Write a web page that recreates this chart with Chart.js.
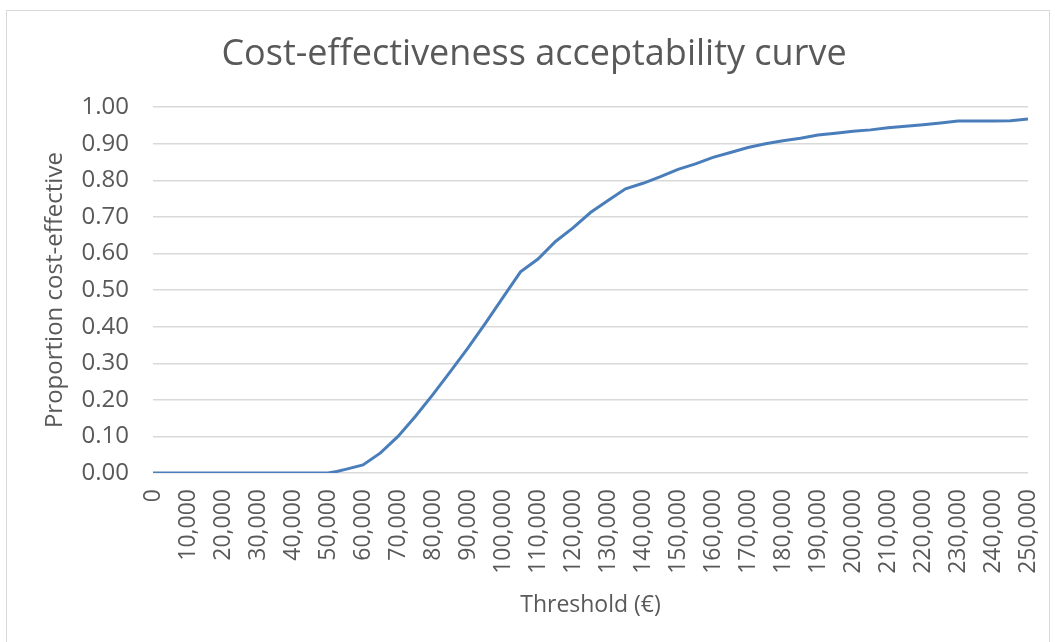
<!DOCTYPE html>
<html>
<head>
<meta charset="utf-8">
<script src="https://cdn.jsdelivr.net/npm/chart.js@4"></script>
<style>
  html, body { margin: 0; padding: 0; background: #fff; }
  #wrap { position: relative; width: 1057px; height: 642px; }
  #frame { position: absolute; left: 6px; top: 10px; width: 1044px; height: 640px; border: 1px solid #d9d9d9; box-sizing: border-box; }
  canvas { position: absolute; left: 0; top: 0; }
</style>
</head>
<body>
<div id="wrap">
  <div id="frame"></div>
  <canvas id="ceacChart" width="1057" height="642"></canvas>
</div>
<script>
// Threshold values (€) and proportion cost-effective
const thresholds = [0, 5000, 10000, 15000, 20000, 25000, 30000, 35000, 40000, 45000,
    50000, 52500, 55000, 60000, 65000, 70000, 75000, 80000, 85000, 90000, 95000,
    100000, 105000, 110000, 115000, 120000, 125000, 130000, 135000, 140000, 145000,
    150000, 155000, 160000, 165000, 170000, 175000, 180000, 185000, 190000, 195000,
    200000, 205000, 210000, 215000, 220000, 225000, 230000, 235000, 240000, 245000, 250000];
const proportion = [0, 0, 0, 0, 0, 0, 0, 0, 0, 0,
    0, 0.004, 0.01, 0.022, 0.055, 0.10, 0.155, 0.215, 0.278, 0.342, 0.41,
    0.48, 0.55, 0.585, 0.633, 0.67, 0.712, 0.745, 0.777, 0.792, 0.81,
    0.83, 0.845, 0.863, 0.876, 0.89, 0.90, 0.908, 0.915, 0.924, 0.929,
    0.934, 0.938, 0.944, 0.948, 0.952, 0.957, 0.962, 0.962, 0.962, 0.963, 0.968];
const xTickMax = 250000;
const xTickStep = 10000;
const yTickStep = 0.1;

const fontFamily = '"Open Sans", "Liberation Sans", sans-serif';
const textColor = '#595959';

const ctx = document.getElementById('ceacChart').getContext('2d');
new Chart(ctx, {
    type: 'line',
    data: {
        datasets: [{
            label: 'CEAC',
            data: thresholds.map((t, i) => ({ x: t, y: proportion[i] })),
            borderColor: '#4a7ebb',
            borderWidth: 3,
            pointRadius: 0,
            tension: 0,
            fill: false
        }]
    },
    options: {
        responsive: false,
        animation: false,
        layout: { padding: { left: 40, right: 29, top: 10, bottom: 10 } },
        plugins: {
            legend: { display: false },
            tooltip: { enabled: false },
            title: {
                display: true,
                text: 'Cost-effectiveness acceptability curve',
                color: textColor,
                font: { family: fontFamily, size: 36, weight: 'normal' },
                padding: { top: 23, bottom: 31 }
            }
        },
        scales: {
            x: {
                type: 'linear',
                min: 0,
                max: xTickMax,
                afterFit: s => {
                    s.height = 159;
                    s.paddingLeft = 0;
                    s.paddingRight = 0;
                },
                ticks: {
                    stepSize: xTickStep,
                    minRotation: 90,
                    maxRotation: 90,
                    autoSkip: false,
                    color: textColor,
                    padding: 16,
                    font: { family: fontFamily, size: 23 },
                    callback: v => v.toLocaleString('en-US')
                },
                grid: { display: false, drawTicks: false },
                border: { display: false },
                title: {
                    display: true,
                    text: 'Threshold (€)',
                    color: textColor,
                    font: { family: fontFamily, size: 23 },
                    padding: { top: 4, bottom: 13 }
                }
            },
            y: {
                min: 0,
                max: 1,
                afterFit: s => { s.width = 113; },
                ticks: {
                    stepSize: yTickStep,
                    color: textColor,
                    padding: 24,
                    font: { family: fontFamily, size: 24 },
                    callback: v => v.toFixed(2)
                },
                grid: { color: '#d9d9d9', lineWidth: 1.5, drawTicks: false },
                border: { display: false },
                title: {
                    display: true,
                    text: 'Proportion cost-effective',
                    color: textColor,
                    font: { family: fontFamily, size: 24 },
                    padding: { top: 1, bottom: 4 }
                }
            }
        }
    }
});
</script>
</body>
</html>
